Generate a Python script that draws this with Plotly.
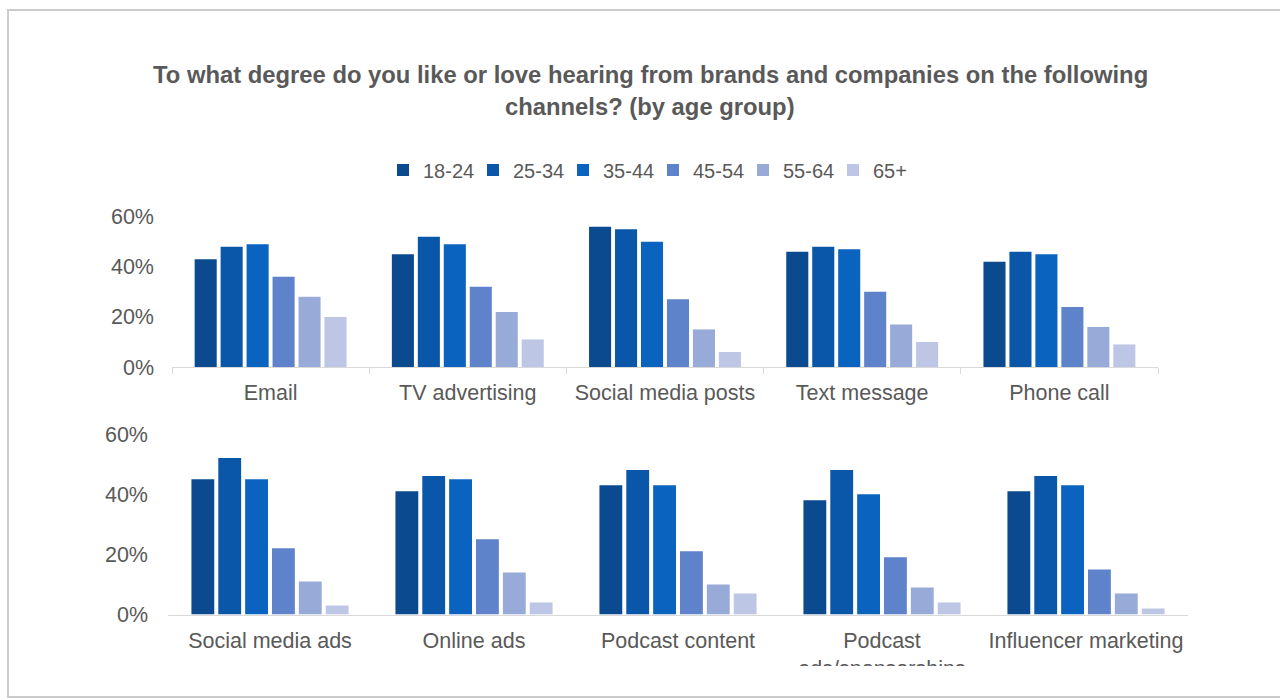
import plotly.graph_objects as go

# ---- data ----
age_groups = ["18-24", "25-34", "35-44", "45-54", "55-64", "65+"]
colors = ["#0B4A8E", "#0A56A8", "#0B63C0", "#5F83CA", "#97AAD8", "#BDC7E5"]

top_categories = ["Email", "TV advertising", "Social media posts", "Text message", "Phone call"]
bottom_categories = ["Social media ads", "Online ads", "Podcast content",
                     "Podcast<br>ads/sponsorships", "Influencer marketing"]

top_18_24 = [43, 45, 56, 46, 42]
top_25_34 = [48, 52, 55, 48, 46]
top_35_44 = [49, 49, 50, 47, 45]
top_45_54 = [36, 32, 27, 30, 24]
top_55_64 = [28, 22, 15, 17, 16]
top_65_plus = [20, 11, 6, 10, 9]

bottom_18_24 = [45, 41, 43, 38, 41]
bottom_25_34 = [52, 46, 48, 48, 46]
bottom_35_44 = [45, 45, 43, 40, 43]
bottom_45_54 = [22, 25, 21, 19, 15]
bottom_55_64 = [11, 14, 10, 9, 7]
bottom_65_plus = [3, 4, 7, 4, 2]

y_tick_values = [0, 20, 40, 60]
y_tick_labels = ["0%", "20%", "40%", "60%"]

top_series = [top_18_24, top_25_34, top_35_44, top_45_54, top_55_64, top_65_plus]
bottom_series = [bottom_18_24, bottom_25_34, bottom_35_44, bottom_45_54, bottom_55_64, bottom_65_plus]

W, H = 1280, 700
def px(x): return x / W
def py(y): return 1 - y / H

FONT = "Liberation Sans, Arial, sans-serif"
GREY = "#595959"

fig = go.Figure()
for name, col, vals in zip(age_groups, colors, top_series):
    fig.add_trace(go.Bar(x=top_categories, y=vals, name=name, marker_color=col,
                         marker_line_width=0, xaxis="x", yaxis="y", showlegend=True))
for name, col, vals in zip(age_groups, colors, bottom_series):
    fig.add_trace(go.Bar(x=bottom_categories, y=vals, name=name, marker_color=col,
                         marker_line_width=0, xaxis="x2", yaxis="y2", showlegend=False))

axis_font = dict(family=FONT, size=21.5, color=GREY)
fig.update_layout(
    width=W, height=H,
    margin=dict(l=0, r=0, t=0, b=0, autoexpand=False),
    paper_bgcolor="white", plot_bgcolor="white",
    barmode="group", bargap=0.21, bargroupgap=0.15,
    font=dict(family=FONT, color=GREY),
    xaxis=dict(domain=[px(172), px(1158)], anchor="y", showline=True, linecolor="#D9D9D9",
               linewidth=1, ticks="outside", tickson="boundaries", ticklen=6,
               tickcolor="#D9D9D9", tickfont=axis_font, showgrid=False,
               ticklabelstandoff=6, automargin=False),
    yaxis=dict(domain=[py(367), py(216.7)], anchor="x", range=[0, 60],
               tickmode="array", tickvals=y_tick_values, ticktext=y_tick_labels,
               showgrid=False, zeroline=False, showline=False,
               tickfont=axis_font, ticklabelstandoff=17, automargin=False),
    xaxis2=dict(domain=[px(168), px(1188)], anchor="y2", showline=True, linecolor="#D9D9D9",
                linewidth=1, ticks="", tickfont=axis_font, showgrid=False,
                ticklabelstandoff=7, automargin=False),
    yaxis2=dict(domain=[py(614.5), py(434)], anchor="x2", range=[0, 60],
                tickmode="array", tickvals=y_tick_values, ticktext=y_tick_labels,
                showgrid=False, zeroline=False, showline=False,
                tickfont=axis_font, ticklabelstandoff=19, automargin=False),
    legend=dict(orientation="h", x=px(383), xanchor="left", y=py(170), yanchor="middle",
                font=dict(family=FONT, size=20, color=GREY), traceorder="normal",
                entrywidth=45, bgcolor="rgba(0,0,0,0)"),
    annotations=[
        dict(text="<b>To what degree do you like or love hearing from brands and companies on the following</b>",
             x=px(650), y=py(74), xref="paper", yref="paper", showarrow=False,
             xanchor="center", yanchor="middle", font=dict(family=FONT, size=23.8, color=GREY)),
        dict(text="<b>channels? (by age group)</b>",
             x=px(650), y=py(106), xref="paper", yref="paper", showarrow=False,
             xanchor="center", yanchor="middle", font=dict(family=FONT, size=23.8, color=GREY)),
    ],
    shapes=[
        # cover the lower part of the wrapped label (clipped in the original)
        dict(type="rect", xref="paper", yref="paper", x0=px(760), x1=px(1000),
             y0=py(693), y1=py(666), fillcolor="white", line_width=0, layer="above"),
        # window frame
        dict(type="rect", xref="paper", yref="paper", x0=px(8), x1=px(1290),
             y0=py(697), y1=py(10), line=dict(color="#CCCCCC", width=2),
             fillcolor="rgba(0,0,0,0)", layer="above"),
    ],
)

fig.write_html("out.html")
